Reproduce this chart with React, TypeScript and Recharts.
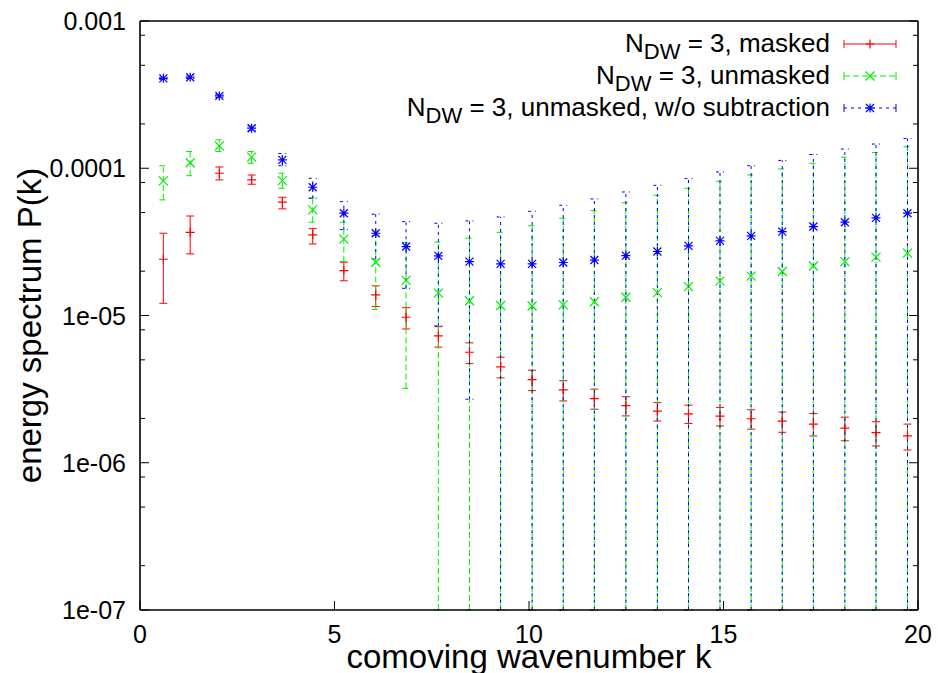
import React from "react";
import { ComposedChart, Scatter, ErrorBar, XAxis, YAxis, Legend } from "recharts";

/** P(k) energy spectrum, log scale, three series with error bars (gnuplot look). */

const FONT = '"Liberation Sans", Arial, Helvetica, sans-serif';

// lower edge of the y axis; error bars whose low end is below it run to the axis
const Y_MIN = 1e-7;
const Y_MAX = 1e-3;

const wavenumbers = [
  0.6, 1.29, 2.04, 2.87, 3.66, 4.44, 5.24, 6.06, 6.84, 7.67, 8.47, 9.27, 10.08,
  10.88, 11.68, 12.49, 13.3, 14.1, 14.91, 15.71, 16.51, 17.31, 18.12, 18.92, 19.73,
];

// N_DW = 3, masked
const maskedP = [
  2.41e-5, 3.67e-5, 9.25e-5, 8.33e-5, 5.88e-5, 3.53e-5, 2.02e-5, 1.38e-5, 9.73e-6, 7.27e-6,
  5.63e-6, 4.48e-6, 3.67e-6, 3.13e-6, 2.73e-6, 2.44e-6, 2.24e-6, 2.15e-6, 2.07e-6, 1.99e-6,
  1.92e-6, 1.83e-6, 1.72e-6, 1.6e-6, 1.52e-6,
];
const maskedLow = [
  1.21e-5, 2.62e-5, 8.33e-5, 7.79e-5, 5.3e-5, 3.06e-5, 1.72e-5, 1.15e-5, 8.1e-6, 6.1e-6,
  4.71e-6, 3.77e-6, 3.09e-6, 2.63e-6, 2.31e-6, 2.08e-6, 1.92e-6, 1.85e-6, 1.78e-6, 1.69e-6,
  1.61e-6, 1.52e-6, 1.41e-6, 1.3e-6, 1.22e-6,
];
const maskedHigh = [
  3.62e-5, 4.74e-5, 1.02e-4, 9.0e-5, 6.35e-5, 3.89e-5, 2.3e-5, 1.59e-5, 1.13e-5, 8.4e-6,
  6.52e-6, 5.21e-6, 4.25e-6, 3.61e-6, 3.16e-6, 2.81e-6, 2.56e-6, 2.46e-6, 2.37e-6, 2.29e-6,
  2.21e-6, 2.16e-6, 2.04e-6, 1.9e-6, 1.83e-6,
];

// N_DW = 3, unmasked  (null = low end below the axis)
const unmaskedP = [
  8.2e-5, 1.09e-4, 1.42e-4, 1.19e-4, 8.24e-5, 5.21e-5, 3.3e-5, 2.3e-5, 1.73e-5, 1.42e-5,
  1.26e-5, 1.17e-5, 1.16e-5, 1.18e-5, 1.24e-5, 1.33e-5, 1.43e-5, 1.57e-5, 1.71e-5, 1.85e-5,
  1.99e-5, 2.17e-5, 2.32e-5, 2.49e-5, 2.65e-5,
];
const unmaskedLow = [
  6.1e-5, 8.9e-5, 1.3e-4, 1.08e-4, 7.31e-5, 4.3e-5, 2.32e-5, 1.1e-5, 3.2e-6, null,
  null, null, null, null, null, null, null, null, null, null,
  null, null, null, null, null,
];
const unmaskedHigh = [
  1.04e-4, 1.3e-4, 1.56e-4, 1.3e-4, 9.25e-5, 6.3e-5, 4.3e-5, 3.5e-5, 3.14e-5, 3.15e-5,
  3.35e-5, 3.67e-5, 4.07e-5, 4.57e-5, 5.15e-5, 5.83e-5, 6.55e-5, 7.31e-5, 8.16e-5, 9.01e-5,
  9.89e-5, 1.08e-4, 1.19e-4, 1.28e-4, 1.4e-4,
];

// N_DW = 3, unmasked, w/o subtraction
const noSubP = [
  4.08e-4, 4.15e-4, 3.1e-4, 1.87e-4, 1.14e-4, 7.43e-5, 4.95e-5, 3.62e-5, 2.94e-5, 2.54e-5,
  2.32e-5, 2.24e-5, 2.24e-5, 2.29e-5, 2.38e-5, 2.55e-5, 2.72e-5, 2.97e-5, 3.21e-5, 3.47e-5,
  3.71e-5, 4.02e-5, 4.3e-5, 4.6e-5, 4.95e-5,
];
const noSubLow = [
  4.0e-4, 4.07e-4, 3.02e-4, 1.8e-4, 1.04e-4, 6.25e-5, 3.83e-5, 2.42e-5, 1.53e-5, 8.5e-6,
  2.7e-6, null, null, null, null, null, null, null, null, null,
  null, null, null, null, null,
];
const noSubHigh = [
  4.16e-4, 4.23e-4, 3.18e-4, 1.94e-4, 1.26e-4, 8.55e-5, 5.93e-5, 4.88e-5, 4.34e-5, 4.23e-5,
  4.39e-5, 4.67e-5, 5.1e-5, 5.61e-5, 6.19e-5, 6.9e-5, 7.66e-5, 8.5e-5, 9.44e-5, 1.04e-4,
  1.13e-4, 1.24e-4, 1.35e-4, 1.46e-4, 1.59e-4,
];

const xTicks = [0, 5, 10, 15, 20];
const yMajorTicks = [1e-7, 1e-6, 1e-5, 1e-4, 1e-3];
const yTickLabels = ["1e-07", "1e-06", "1e-05", "0.0001", "0.001"];
const yMinorTicks = [
  2e-7, 5e-7, 8e-7, 2e-6, 5e-6, 8e-6, 2e-5, 5e-5, 8e-5, 2e-4, 5e-4, 8e-4,
];
const yTicks = [...yMajorTicks, ...yMinorTicks];

const RED = "#ff0000";
const GREEN = "#00ee00";
const BLUE = "#0000ff";
const GREEN_DASH = "6 3";
const BLUE_DASH = "3 4";

function rows(p: number[], lo: (number | null)[], hi: number[]) {
  return wavenumbers.map((k, i) => ({
    k,
    p: p[i],
    err: [p[i] - (lo[i] ?? Y_MIN), hi[i] - p[i]],
  }));
}

const maskedRows = rows(maskedP, maskedLow, maskedHigh);
const unmaskedRows = rows(unmaskedP, unmaskedLow, unmaskedHigh);
const noSubRows = rows(noSubP, noSubLow, noSubHigh);

// point symbols: + (pt 1), x (pt 2), * (pt 3)
function plusPath(cx: number, cy: number, s = 4.5) {
  return `M${cx - s},${cy}H${cx + s}M${cx},${cy - s}V${cy + s}`;
}
function crossPath(cx: number, cy: number, s = 4.5) {
  return `M${cx - s},${cy - s}L${cx + s},${cy + s}M${cx - s},${cy + s}L${cx + s},${cy - s}`;
}

const PlusShape = (props: any) => (
  <path d={plusPath(props.cx, props.cy)} stroke={RED} strokeWidth={1.2} fill="none" />
);
const CrossShape = (props: any) => (
  <path d={crossPath(props.cx, props.cy)} stroke={GREEN} strokeWidth={1.2} fill="none" />
);
const StarShape = (props: any) => (
  <path
    d={plusPath(props.cx, props.cy) + crossPath(props.cx, props.cy, 4)}
    stroke={BLUE}
    strokeWidth={1.2}
    fill="none"
  />
);

function LeftTick({ x, y, payload }: any) {
  const idx = yMajorTicks.indexOf(payload.value);
  return (
    <g>
      <line x1={x} x2={x + (idx >= 0 ? 9 : 5)} y1={y} y2={y} stroke="#000" />
      {idx >= 0 && (
        <text x={x - 14} y={y} dy="0.36em" textAnchor="end" fontSize={25} fontFamily={FONT} fill="#000">
          {yTickLabels[idx]}
        </text>
      )}
    </g>
  );
}

function RightTick({ x, y, payload }: any) {
  const major = yMajorTicks.includes(payload.value);
  return <line x1={x} x2={x - (major ? 9 : 5)} y1={y} y2={y} stroke="#000" />;
}

function BottomTick({ x, y, payload }: any) {
  return (
    <g>
      <line x1={x} x2={x} y1={y} y2={y - 9} stroke="#000" />
      <text x={x} y={y + 24} dy="0.36em" textAnchor="middle" fontSize={25} fontFamily={FONT} fill="#000">
        {payload.value}
      </text>
    </g>
  );
}

function TopTick({ x, y }: any) {
  return <line x1={x} x2={x} y1={y} y2={y + 9} stroke="#000" />;
}

const legendItems = [
  { label: "masked", color: RED, dash: undefined, mark: plusPath },
  { label: "unmasked", color: GREEN, dash: GREEN_DASH, mark: crossPath },
  { label: "unmasked, w/o subtraction", color: BLUE, dash: BLUE_DASH, mark: null },
];

function LegendBox() {
  return (
    <div style={{ fontFamily: FONT, fontSize: 26, color: "#000" }}>
      {legendItems.map((item) => (
        <div
          key={item.label}
          style={{ display: "flex", justifyContent: "flex-end", alignItems: "center", height: 32 }}
        >
          <span style={{ whiteSpace: "nowrap", lineHeight: "32px" }}>
            N<span style={{ fontSize: 22, position: "relative", top: 7 }}>DW</span> = 3, {item.label}
          </span>
          <svg width={54} height={32} style={{ marginLeft: 13, display: "block" }}>
            <line x1={1} x2={53} y1={16} y2={16} stroke={item.color} strokeDasharray={item.dash} />
            <line x1={1} x2={1} y1={12} y2={20} stroke={item.color} />
            <line x1={53} x2={53} y1={12} y2={20} stroke={item.color} />
            <path
              d={item.mark ? item.mark(27, 16) : plusPath(27, 16) + crossPath(27, 16, 4)}
              stroke={item.color}
              strokeWidth={1.2}
              fill="none"
            />
          </svg>
        </div>
      ))}
    </div>
  );
}

export default function App() {
  return (
    <div style={{ position: "absolute", left: 0, top: 0, background: "#fff" }}>
      <ComposedChart width={938} height={673} margin={{ top: 20, right: 0, bottom: 0, left: 0 }}>
        <XAxis
          dataKey="k"
          type="number"
          domain={[0, 20]}
          ticks={xTicks}
          interval={0}
          allowDataOverflow
          height={63}
          tickSize={0}
          tickMargin={0}
          tickLine={false}
          tick={<BottomTick />}
          axisLine={{ stroke: "#000", strokeWidth: 1.6 }}
          label={{
            content: ({ viewBox }: any) => (
              <text
                x={viewBox.x + viewBox.width / 2}
                y={668}
                textAnchor="middle"
                fontSize={33}
                fontFamily={FONT}
                fill="#000"
              >
                comoving wavenumber k
              </text>
            ),
          }}
        />
        <XAxis
          xAxisId="top"
          orientation="top"
          type="number"
          domain={[0, 20]}
          ticks={xTicks}
          interval={0}
          allowDataOverflow
          height={1}
          tickSize={0}
          tickMargin={0}
          tickLine={false}
          tick={<TopTick />}
          axisLine={{ stroke: "#000", strokeWidth: 1.6 }}
        />
        <YAxis
          dataKey="p"
          type="number"
          scale="log"
          domain={[Y_MIN, Y_MAX]}
          ticks={yTicks}
          interval={0}
          allowDataOverflow
          width={140}
          tickSize={0}
          tickMargin={0}
          tickLine={false}
          tick={<LeftTick />}
          axisLine={{ stroke: "#000", strokeWidth: 1.6 }}
          label={{
            content: ({ viewBox }: any) => {
              const cy = viewBox.y + viewBox.height / 2 + 10;
              return (
                <text
                  x={41}
                  y={cy}
                  transform={`rotate(-90 41 ${cy})`}
                  textAnchor="middle"
                  fontSize={33}
                  fontFamily={FONT}
                  fill="#000"
                >
                  energy spectrum P(k)
                </text>
              );
            },
          }}
        />
        <YAxis
          yAxisId="right"
          orientation="right"
          type="number"
          scale="log"
          domain={[Y_MIN, Y_MAX]}
          ticks={yTicks}
          interval={0}
          allowDataOverflow
          width={20}
          tickSize={0}
          tickMargin={0}
          tickLine={false}
          tick={<RightTick />}
          axisLine={{ stroke: "#000", strokeWidth: 1.6 }}
        />
        <Legend
          layout="vertical"
          verticalAlign="middle"
          align="center"
          wrapperStyle={{ top: 28, right: 41, left: "auto", width: "auto" }}
          content={() => <LegendBox />}
        />
        <Scatter data={maskedRows} shape={PlusShape} isAnimationActive={false}>
          <ErrorBar dataKey="err" direction="y" width={4} stroke={RED} strokeWidth={1} isAnimationActive={false} />
        </Scatter>
        <Scatter data={unmaskedRows} shape={CrossShape} isAnimationActive={false}>
          <ErrorBar
            dataKey="err"
            direction="y"
            width={4}
            stroke={GREEN}
            strokeWidth={1}
            strokeDasharray={GREEN_DASH}
            isAnimationActive={false}
          />
        </Scatter>
        <Scatter data={noSubRows} shape={StarShape} isAnimationActive={false}>
          <ErrorBar
            dataKey="err"
            direction="y"
            width={4}
            stroke={BLUE}
            strokeWidth={1}
            strokeDasharray={BLUE_DASH}
            isAnimationActive={false}
          />
        </Scatter>
      </ComposedChart>
    </div>
  );
}
